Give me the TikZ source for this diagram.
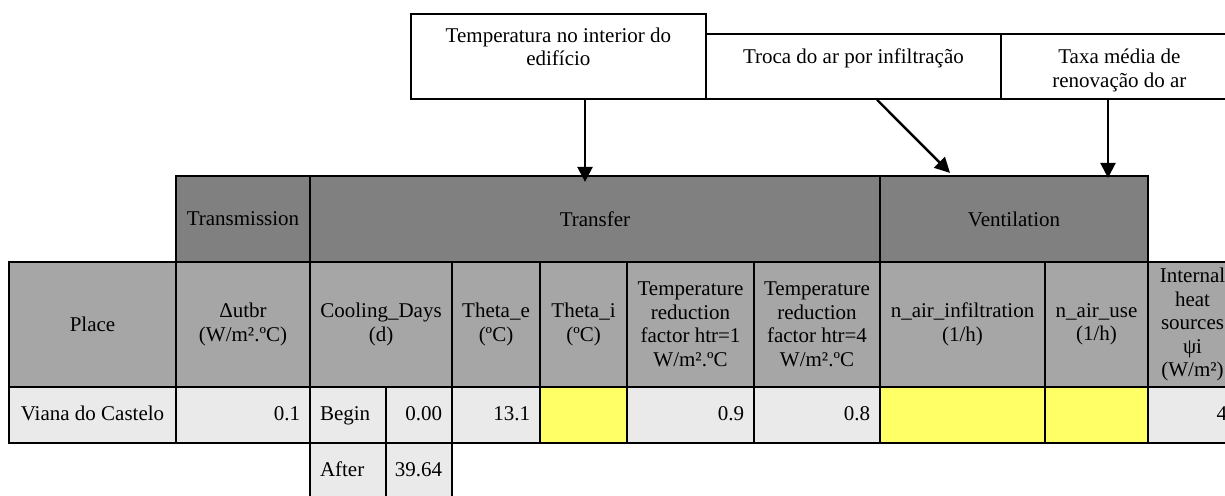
\documentclass[tikz,border=0pt]{standalone}
\usepackage{fontspec}
\setmainfont{Liberation Serif}
\usetikzlibrary{arrows.meta}

\definecolor{hdrdark}{HTML}{808080}
\definecolor{hdrmid}{HTML}{A6A6A6}
\definecolor{cellbg}{HTML}{EAEAEA}
\definecolor{inputbg}{HTML}{FFFF66}

\newcommand\tabfont{\fontsize{21}{23.5}\selectfont}

% header cell: name, x1, y1, x2, y2, style, text
\newcommand\hcell[7]{%
  \pgfmathsetmacro\cw{#4-#2}\pgfmathsetmacro\ch{#5-#3}%
  \node[tcell,#6,minimum width=\cw pt,minimum height=\ch pt,inner xsep=2pt]
    (#1) at ({(#2+#4)/2},{(#3+#5)/2}) {#7};}
% data cell: name, x1, y1, x2, y2, style, alignment (l/c/r), text
\newcommand\dcell[8]{%
  \pgfmathsetmacro\cw{#4-#2}\pgfmathsetmacro\ch{#5-#3}\pgfmathsetmacro\tw{#4-#2-20}%
  \node[tcell,#6,minimum width=\cw pt,minimum height=\ch pt,inner xsep=10pt,
        text height=14.5pt,text depth=4.5pt]
    (#1) at ({(#2+#4)/2},{(#3+#5)/2}) {\makebox[\tw pt][#7]{#8}};}

\tikzset{
  tcell/.style={draw=black, line width=2.2pt, inner ysep=0pt, font=\tabfont},
  dark/.style={fill=hdrdark, align=center},
  mid/.style={fill=hdrmid, align=center},
  data/.style={fill=cellbg},
  input/.style={fill=inputbg},
  callout/.style={draw=black, line width=1.8pt, inner sep=0pt, anchor=north west, font=\tabfont},
  conn/.style={draw=black, line width=2.4pt, -{Triangle[length=15pt,width=15pt]}},
}

\begin{document}
\begin{tikzpicture}[x=1pt,y=-1pt]
\useasboundingbox (0,0) rectangle (1225,495);

% group header row
\hcell{trans}{176}{176}{310}{262}{dark}{Transmission}
\hcell{transf}{310}{176}{880}{262}{dark}{Transfer}
\hcell{vent}{880}{176}{1148}{262}{dark}{Ventilation}

% column header row
\hcell{place}{9}{262}{176}{387}{mid}{Place}
\hcell{dutbr}{176}{262}{310}{387}{mid}{Δutbr\\(W/m².ºC)}
\hcell{cool}{310}{262}{452}{387}{mid}{Cooling\_Days\\(d)}
\hcell{thetae}{452}{262}{540}{387}{mid}{Theta\_e\\(ºC)}
\hcell{thetai}{540}{262}{627}{387}{mid}{Theta\_i\\(ºC)}
\hcell{trfone}{627}{262}{754}{387}{mid}{Temperature\\reduction\\factor htr=1\\W/m².ºC}
\hcell{trffour}{754}{262}{880}{387}{mid}{Temperature\\reduction\\factor htr=4\\W/m².ºC}
\hcell{ninf}{880}{262}{1045}{387}{mid}{n\_air\_infiltration\\(1/h)}
\hcell{nuse}{1045}{262}{1148}{387}{mid}{n\_air\_use\\(1/h)}
\hcell{ihs}{1148}{262}{1237}{387}{mid}{Internal\\heat\\sources\\ψi\\(W/m²)}

% data row
\dcell{vdc}{9}{387}{176}{443}{data}{c}{Viana do Castelo}
\dcell{vdutbr}{176}{387}{310}{443}{data}{r}{0.1}
\dcell{beg}{310}{387}{386}{443}{data}{l}{Begin}
\dcell{vbeg}{386}{387}{452}{443}{data}{r}{0.00}
\dcell{vthetae}{452}{387}{540}{443}{data}{r}{13.1}
\dcell{vthetai}{540}{387}{627}{443}{input}{c}{}
\dcell{vtrfone}{627}{387}{754}{443}{data}{r}{0.9}
\dcell{vtrffour}{754}{387}{880}{443}{data}{r}{0.8}
\dcell{vninf}{880}{387}{1045}{443}{input}{c}{}
\dcell{vnuse}{1045}{387}{1148}{443}{input}{c}{}
\dcell{vihs}{1148}{387}{1237}{443}{data}{r}{4}

% cooling days, second line
\dcell{aft}{310}{443}{386}{500}{data}{l}{After}
\dcell{vaft}{386}{443}{452}{500}{data}{r}{39.64}

% callouts
\node[callout] (box1) at (410,13)
  {\parbox[c][85pt][t]{295pt}{\centering\vspace*{14pt}Temperatura no interior do\\edifício}};
\node[callout] (box2) at (705,33)
  {\parbox[c][65pt][t]{295pt}{\centering\vspace*{15pt}Troca do ar por infiltração}};
\node[callout] (box3) at (1000,33)
  {\parbox[c][65pt][t]{237pt}{\centering\vspace*{15pt}Taxa média de\\renovação do ar}};

% connectors
\draw[conn] ([xshift=175pt]box1.south west) -- ([xshift=-10pt,yshift=-7pt]transf.north);
\draw[conn] ([xshift=172pt]box2.south west) -- ([xshift=-64pt,yshift=2pt]vent.north);
\draw[conn] ([xshift=108pt]box3.south west) -- ([xshift=94pt,yshift=-3pt]vent.north);
\end{tikzpicture}
\end{document}
